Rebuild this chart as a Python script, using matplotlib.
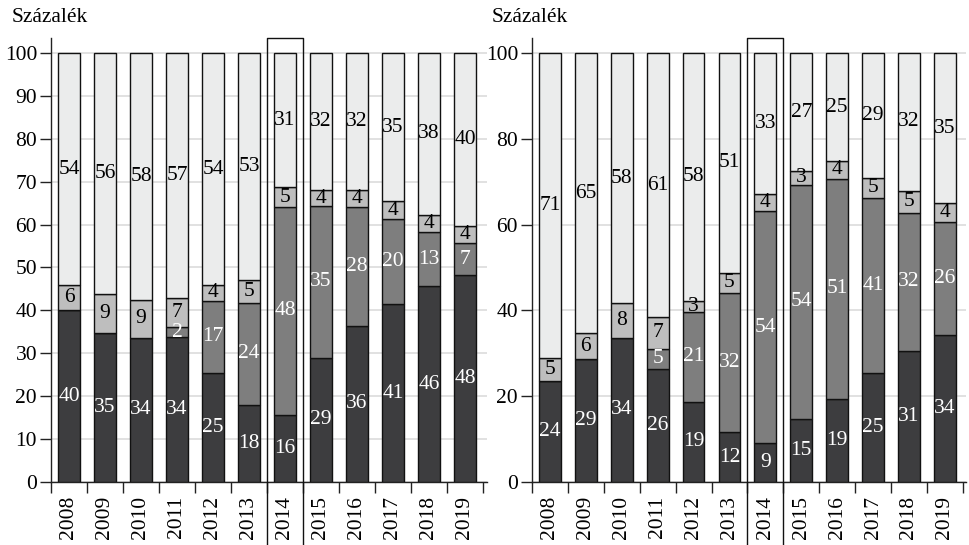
import matplotlib
matplotlib.use("Agg")
import matplotlib.pyplot as plt
import numpy as np

years = ["2008", "2009", "2010", "2011", "2012", "2013", "2014",
         "2015", "2016", "2017", "2018", "2019"]

# Left panel (percent), bottom to top
left_s1 = [40.0, 34.7, 33.6, 33.7, 25.4, 18.0, 15.7, 29.0, 36.4, 41.4, 45.6, 48.2]
left_s2 = [0.0, 0.0, 0.0, 2.4, 16.9, 23.8, 48.4, 35.4, 27.6, 19.9, 12.7, 7.4]
left_s3 = [5.9, 9.2, 8.8, 6.8, 3.6, 5.2, 4.6, 3.6, 4.0, 4.1, 4.0, 4.0]
left_s4 = [54.1, 56.1, 57.6, 57.1, 54.1, 53.0, 31.3, 32.0, 32.0, 34.6, 37.7, 40.4]

# Right panel (percent), bottom to top
right_s1 = [23.6, 28.7, 33.6, 26.45, 18.7, 11.6, 9.0, 14.8, 19.3, 25.4, 30.6, 34.2]
right_s2 = [0.0, 0.0, 0.0, 4.6, 20.9, 32.4, 54.2, 54.45, 51.4, 40.9, 32.2, 26.4]
right_s3 = [5.4, 6.0, 8.1, 7.45, 2.7, 4.8, 3.9, 3.25, 4.1, 4.6, 5.1, 4.4]
right_s4 = [71.0, 65.3, 58.3, 61.45, 57.7, 51.2, 32.9, 27.45, 25.2, 29.1, 32.1, 35.0]

ylabel_text = "Százalék"
highlight_year = "2014"

colors = ["#3d3d3f", "#7e7e7e", "#bebebe", "#ebecec"]
text_colors = ["white", "white", "black", "black"]

FONT = ["Liberation Serif", "DejaVu Serif"]
plt.rcParams["font.family"] = FONT
FS = 15.5

fig = plt.figure(figsize=(9.7, 5.45), dpi=100)

W, H = 970.0, 545.0
y0_px, y100_px = 482.0, 53.0
ppu = (y0_px - y100_px) / 100.0
ytop = (y0_px - 38.0) / ppu
bottom = (H - y0_px) / H
height = (y0_px - 38.0) / H


def panel(left_px, cat_px, series, yticks, title_x):
    n = len(years)
    xmax = n - 0.5 + 0.1
    width_px = (xmax + 0.5) * cat_px
    ax = fig.add_axes([left_px / W, bottom, width_px / W, height])
    x = np.arange(n)
    base = np.zeros(n)
    for vals, c, tc in zip(series, colors, text_colors):
        vals = np.array(vals, dtype=float)
        ax.bar(x, vals, bottom=base, width=0.61, color=c,
               edgecolor="#111111", linewidth=1.0, zorder=3)
        for xi, b, v in zip(x, base, vals):
            if v > 0:
                ax.text(xi, b + v / 2, f"{int(round(v))}", ha="center",
                        va="center", color=tc, fontsize=FS, zorder=4)
        base = base + vals
    ax.set_xlim(-0.5, xmax)
    ax.set_ylim(0, ytop)
    ax.set_yticks(yticks)
    ax.set_yticklabels([str(t) for t in yticks], fontsize=FS)
    ax.yaxis.grid(True, color="#dcdcdc", linewidth=1.2, zorder=0)
    ax.set_axisbelow(True)
    ax.set_xticks(np.arange(-0.5, n, 1.0))
    ax.set_xticklabels([])
    ax.set_xticks(x, minor=True)
    ax.set_xticklabels(years, minor=True, rotation=90, fontsize=FS)
    ax.tick_params(axis="x", which="major", length=8, width=1, color="#222222")
    ax.tick_params(axis="x", which="minor", length=0, pad=10)
    ax.tick_params(axis="y", length=8, width=1, color="#222222", pad=2)
    for s in ("top", "right"):
        ax.spines[s].set_visible(False)
    for s in ("left", "bottom"):
        ax.spines[s].set_color("#222222")
        ax.spines[s].set_linewidth(1.0)
    hi = years.index(highlight_year)
    ax.plot([hi - 0.5, hi - 0.5, hi + 0.5, hi + 0.5],
            [-30, ytop, ytop, -30], color="#111111", linewidth=1.0,
            clip_on=False, zorder=5)
    fig.text(title_x / W, 1 - 18 / H, ylabel_text, fontsize=FS,
             ha="left", va="center")
    return ax


panel(51.0, 36.0, [left_s1, left_s2, left_s3, left_s4],
      list(range(0, 101, 10)), 12.0)
panel(532.0, 35.9, [right_s1, right_s2, right_s3, right_s4],
      list(range(0, 101, 20)), 492.0)

fig.savefig("out.png", dpi=100)
